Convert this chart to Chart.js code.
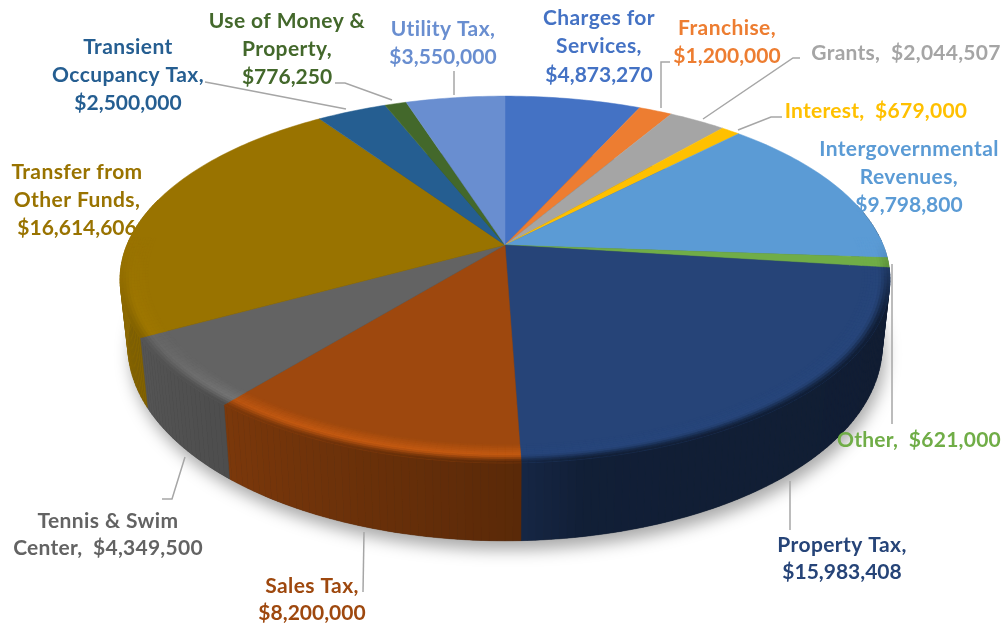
<!DOCTYPE html>
<html>
<head>
<meta charset="utf-8">
<style>html,body{margin:0;padding:0;background:#fff}canvas{display:block}</style>
<script src="https://cdn.jsdelivr.net/npm/chart.js@4"></script>
</head>
<body>
<canvas id="c" width="1003" height="627"></canvas>
<script>
const categories = ["Charges for Services","Franchise","Grants","Interest","Intergovernmental Revenues","Other","Property Tax","Sales Tax","Tennis & Swim Center","Transfer from Other Funds","Transient Occupancy Tax","Use of Money & Property","Utility Tax"];
const values = [4873270,1200000,2044507,679000,9798800,621000,15983408,8200000,4349500,16614606,2500000,776250,3550000];
const colors = ["#4472c4","#ed7d31","#a5a5a5","#ffc000","#5b9bd5","#70ad47","#264478","#9e480e","#636363","#997300","#255e91","#43682b","#698ed0"];

// label layout: index, centre x, line centres y, line breaks
const money = v => "$" + v.toLocaleString("en-US");
const labelLayout = [
  {i:0,x:599,y:[18,46,75],lines:["Charges for","Services,",null]},
  {i:1,x:727,y:[28,56],lines:["Franchise,",null]},
  {i:2,x:906,y:[53],lines:["Grants,  @"]},
  {i:3,x:876,y:[111],lines:["Interest,  @"]},
  {i:4,x:909,y:[149,177,205],lines:["Intergovernmental","Revenues,",null]},
  {i:5,x:919,y:[440],lines:["Other,  @"]},
  {i:6,x:842,y:[545,572],lines:["Property Tax,",null]},
  {i:7,x:312,y:[586,613],lines:["Sales Tax,",null]},
  {i:8,x:108,y:[521,548],lines:["Tennis & Swim","Center,  @"]},
  {i:9,x:77,y:[172,200,228],lines:["Transfer from","Other Funds,",null]},
  {i:10,x:128,y:[47,75,103],lines:["Transient","Occupancy Tax,",null]},
  {i:11,x:287,y:[21,49,77],lines:["Use of Money &","Property,",null]},
  {i:12,x:443,y:[29,57],lines:["Utility Tax,",null]}
];
const leaders = [
  [[454,71],[454,95]],
  [[335,83],[345,83],[392,100]],
  [[205,82],[216,84],[346,109]],
  [[670,62],[661,62],[661,108]],
  [[800,58],[793,58],[703,119]],
  [[782,117],[771,117],[738,130]],
  [[892,264],[892,424]],
  [[790,481],[790,530]],
  [[364,532],[363,592]],
  [[185,457],[172,499],[162,499]]
];

// view parameters
const persp = 0.188, xScale = 1.543, yScale = 0.722;
const rgb = h => [1,3,5].map(k => parseInt(h.substr(k,2),16));
const css = c => `rgb(${c.map(v=>Math.round(Math.max(0,Math.min(255,v)))).join(",")})`;
const mul = (c,f) => c.map(v=>v*f);
const mix = (a,b,t) => a.map((v,k)=>v+(b[k]-v)*t);
const sstep = (a,b,x) => {const t=Math.max(0,Math.min(1,(x-a)/(b-a)));return t*t*(3-2*t);};
const deg = a => {let d=((a+Math.PI/2)*180/Math.PI)%360; return d<0?d+360:d;};

const sideStops = [[0,.42],[100,.42],[170,.45],[178,.57],[220,.78],[240,.85],[270,.92],[360,.92]];
function sideFactor(a){
  const d = deg(a);
  for(let k=1;k<sideStops.length;k++){
    if(d<=sideStops[k][0]){
      const [x0,y0]=sideStops[k-1],[x1,y1]=sideStops[k];
      return y0+(y1-y0)*(d-x0)/(x1-x0);
    }
  }
  return .9;
}

const pie3d = {
  id:"pie3d",
  beforeDatasetsDraw(chart){
    const ctx = chart.ctx, arcs = chart.getDatasetMeta(0).data;
    const el0 = arcs[0];
    const cx = el0.x, cy = el0.y, rad = el0.outerRadius;
    const R = rad*xScale, S = rad*yScale;
    const top = (a,r) => {
      const u=r*Math.cos(a), v=r*Math.sin(a), w=1-persp*v;
      return [cx+R*u/w, cy+S*v/w];
    };
    const bot = (a,r) => {
      const [x,y]=top(a,r);
      return [cx+(x-cx)*.98, y+(y-340)*.065+70];
    };
    const poly = (pts,fill) => {
      ctx.beginPath();
      pts.forEach((p,k)=>k?ctx.lineTo(p[0],p[1]):ctx.moveTo(p[0],p[1]));
      ctx.closePath();
      ctx.fillStyle=fill; ctx.strokeStyle=fill; ctx.lineWidth=.5;
      ctx.fill(); ctx.stroke();
    };
    ctx.save();
    // drop shadow
    ctx.save();
    ctx.shadowColor="rgba(0,0,0,.34)"; ctx.shadowBlur=16; ctx.shadowOffsetX=3; ctx.shadowOffsetY=9;
    ctx.beginPath();
    for(let d=0;d<360;d+=2){const p=bot(d*Math.PI/180,1); d?ctx.lineTo(p[0],p[1]):ctx.moveTo(p[0],p[1]);}
    ctx.closePath(); ctx.fillStyle="#333"; ctx.fill();
    ctx.restore();
    const step = Math.PI/180;
    // side wall
    arcs.forEach((el,i)=>{
      const base = rgb(colors[i]);
      for(let a=el.startAngle;a<el.endAngle;a+=step){
        const b=Math.min(a+step,el.endAngle);
        if(Math.sin(a)<-.25) continue;
        const f=sideFactor((a+b)/2);
        poly([top(a,1),top(b,1),bot(b,1),bot(a,1)],css(mul(base,f)));
      }
    });
    // top face
    arcs.forEach((el,i)=>{
      const pts=[[cx,cy]];
      const n=Math.max(2,Math.ceil((el.endAngle-el.startAngle)/step));
      for(let k=0;k<=n;k++) pts.push(top(el.startAngle+(el.endAngle-el.startAngle)*k/n,1));
      poly(pts,colors[i]);
    });
    // bevel
    const r0=.93, r1=1, rMid=.968, rings=10;
    arcs.forEach((el,i)=>{
      const base=rgb(colors[i]);
      for(let a=el.startAngle;a<el.endAngle;a+=step){
        const b=Math.min(a+step,el.endAngle), m=(a+b)/2;
        const W=sstep(-.05,.45,Math.sin(m));
        if(W<=0) continue;
        const d=deg(m);
        const k1=d>178?1.03+.2*(1-sstep(205,245,d)):1.02;
        const side=mul(base,sideFactor(m));
        const hl=mul(base,k1);
        for(let k=0;k<rings;k++){
          const ra=r0+(r1-r0)*k/rings, rb=r0+(r1-r0)*(k+1)/rings, rc=(ra+rb)/2;
          const c=rc<rMid?mix(base,hl,(rc-r0)/(rMid-r0)):mix(hl,side,sstep(rMid,r1,rc));
          poly([top(a,ra),top(b,ra),top(b,rb),top(a,rb)],css(mix(base,c,W)));
        }
      }
    });
    ctx.restore();
    return false;
  },
  afterDraw(chart){
    const ctx=chart.ctx;
    ctx.save();
    ctx.strokeStyle="#a6a6a6"; ctx.lineWidth=1.5;
    leaders.forEach(l=>{
      ctx.beginPath();
      l.forEach((p,k)=>k?ctx.lineTo(p[0],p[1]):ctx.moveTo(p[0],p[1]));
      ctx.stroke();
    });
    ctx.font='bold 21px Lato';
    ctx.textAlign="center"; ctx.textBaseline="middle";
    labelLayout.forEach(o=>{
      ctx.fillStyle=colors[o.i];
      o.lines.forEach((t,k)=>{
        const s=t===null?money(values[o.i]):t.replace("@",money(values[o.i]));
        ctx.letterSpacing=t===null?"0px":(t.includes("@")?"0.25px":"0.4px");
        ctx.fillText(s,o.x,o.y[k]);
      });
    });
    ctx.restore();
  }
};

new Chart(document.getElementById("c"),{
  type:"pie",
  data:{labels:categories,datasets:[{data:values,backgroundColor:colors,borderWidth:0}]},
  options:{
    responsive:false,animation:false,events:[],
    layout:{padding:{left:7,right:0,top:0,bottom:137}},
    plugins:{legend:{display:false},tooltip:{enabled:false},title:{display:false}}
  },
  plugins:[pie3d]
});
</script>
</body>
</html>
